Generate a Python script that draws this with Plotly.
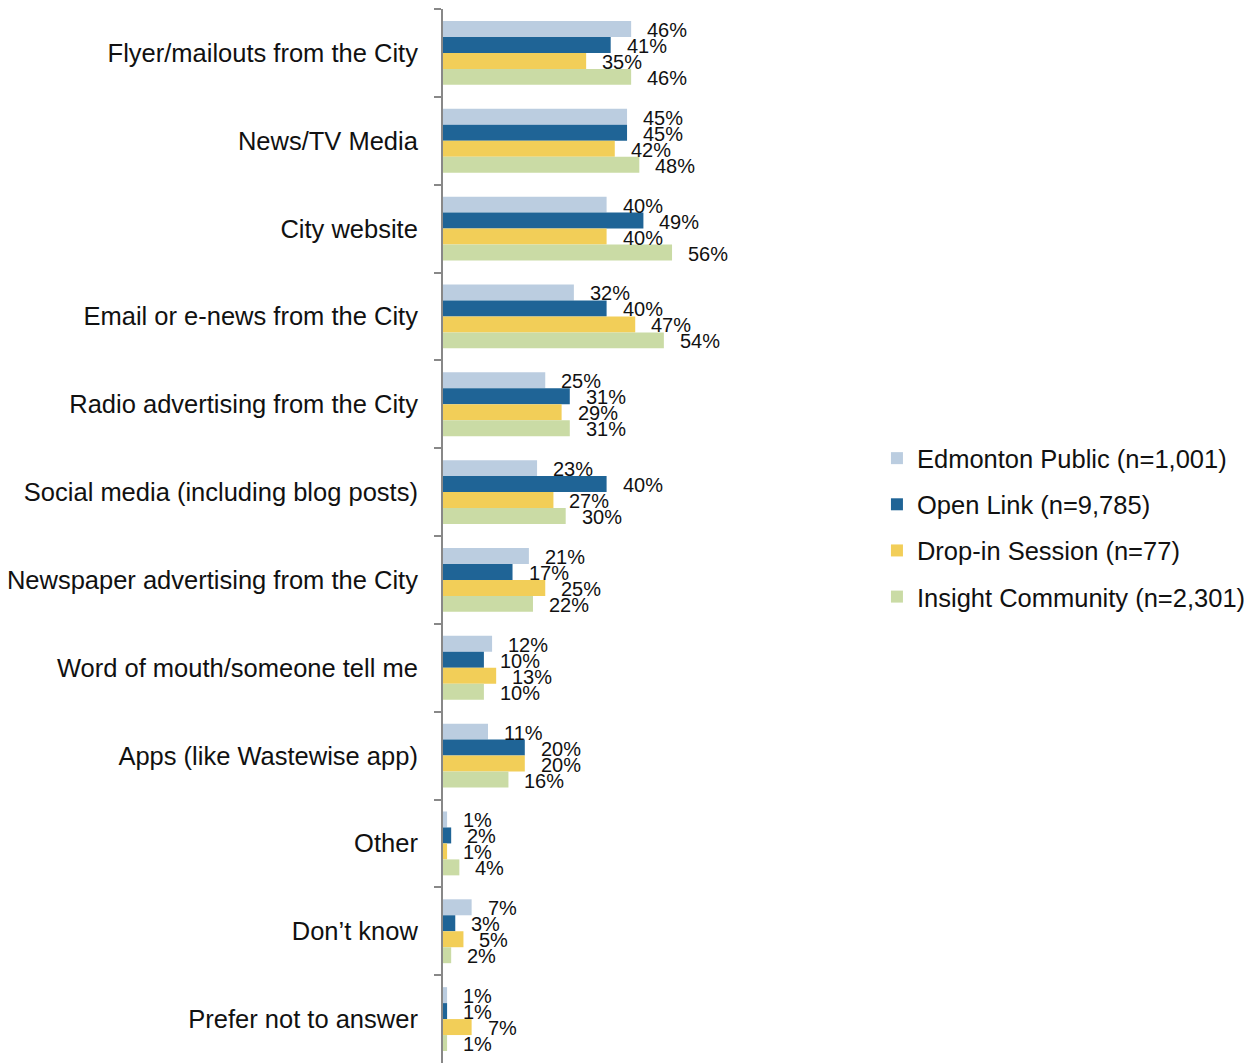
import plotly.graph_objects as go

categories = [
    "Flyer/mailouts from the City",
    "News/TV Media",
    "City website",
    "Email or e-news from the City",
    "Radio advertising from the City",
    "Social media (including blog posts)",
    "Newspaper advertising from the City",
    "Word of mouth/someone tell me",
    "Apps (like Wastewise app)",
    "Other",
    "Don\u2019t know",
    "Prefer not to answer",
]

series_names = [
    "Edmonton Public (n=1,001)",
    "Open Link (n=9,785)",
    "Drop-in Session (n=77)",
    "Insight Community (n=2,301)",
]

edmonton_public = [46, 45, 40, 32, 25, 23, 21, 12, 11, 1, 7, 1]
open_link = [41, 45, 49, 40, 31, 40, 17, 10, 20, 2, 3, 1]
drop_in = [35, 42, 40, 47, 29, 27, 25, 13, 20, 1, 5, 7]
insight = [46, 48, 56, 54, 31, 30, 22, 10, 16, 4, 2, 1]

series_values = [edmonton_public, open_link, drop_in, insight]
colors = ["#BBCDE0", "#1F6496", "#F2CE58", "#CADBA5"]

FONT = "Liberation Sans, Arial, sans-serif"

fig = go.Figure()
for i, (name, vals, col) in enumerate(zip(series_names, series_values, colors)):
    fig.add_trace(go.Bar(
        y=categories, x=vals, name=name, orientation="h",
        marker=dict(color=col, line=dict(width=0)),
        legendgroup=str(i),
        hoverinfo="x+y+name",
    ))

annotations = []
bar_px = 16
for i, vals in enumerate(series_values):
    for cat, v in zip(categories, vals):
        annotations.append(dict(
            x=v, y=cat, xref="x", yref="y",
            text=f"{v}%", showarrow=False,
            xanchor="left", yanchor="middle",
            xshift=14, yshift=-(i - 1.5) * bar_px - 1,
            font=dict(family=FONT, size=20, color="#111111"),
        ))

fig.update_layout(
    width=1244, height=1055,
    margin=dict(l=435, r=400, t=1, b=0, autoexpand=False),
    paper_bgcolor="white", plot_bgcolor="white",
    barmode="group", bargap=0.2727, bargroupgap=0,
    font=dict(family=FONT, size=25, color="#111111"),
    annotations=annotations,
    showlegend=True,
    legend=dict(
        x=1.061, xanchor="left", y=0.508, yanchor="middle",
        font=dict(family=FONT, size=25.5, color="#111111"),
        tracegroupgap=10, itemwidth=30,
        bgcolor="rgba(0,0,0,0)",
    ),
    xaxis=dict(range=[0, 100], visible=False, showgrid=False, zeroline=False),
    yaxis=dict(
        autorange="reversed", showline=True, linecolor="#888888", linewidth=2,
        ticks="outside", tickson="boundaries", ticklen=7, tickcolor="#888888",
        tickwidth=2, showgrid=False, zeroline=False, automargin=False,
        tickfont=dict(family=FONT, size=25.5, color="#111111"),
        ticklabelstandoff=18,
    ),
)

fig.write_html("out.html")
